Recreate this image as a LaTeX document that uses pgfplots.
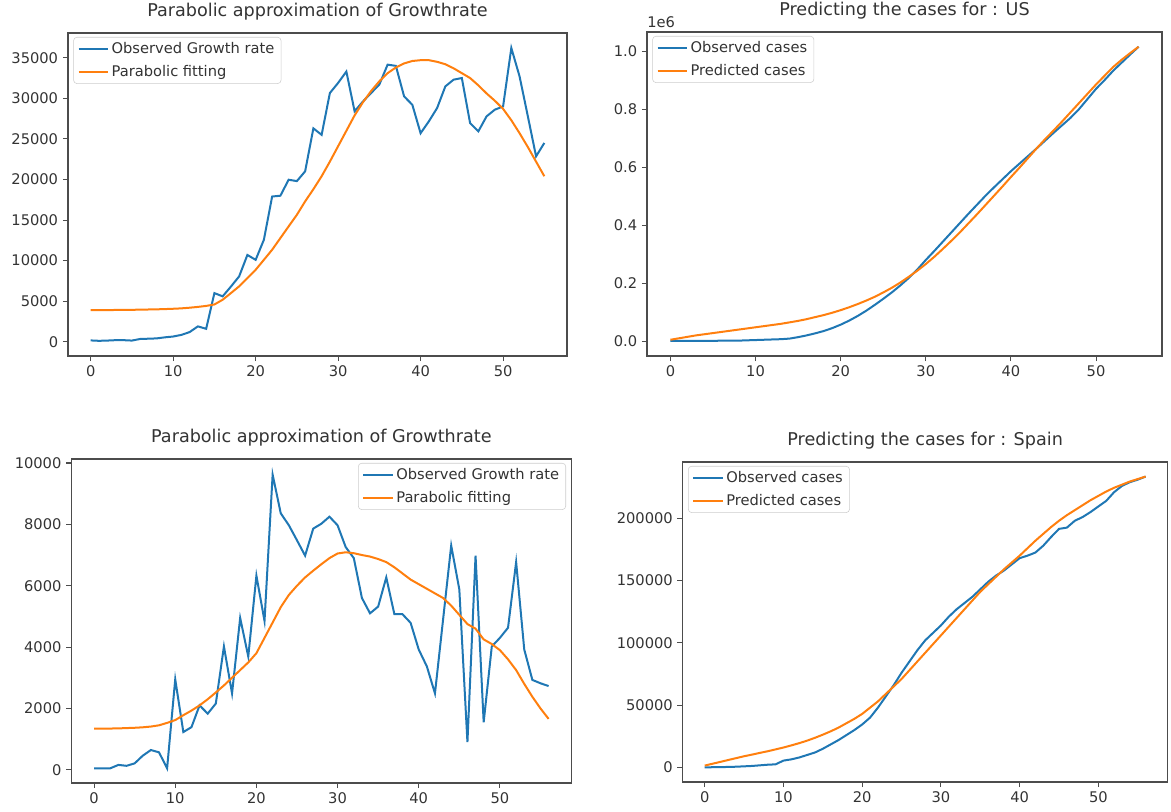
\documentclass[border=0pt]{standalone}
\usepackage{fontspec}
\setmainfont{DejaVu Sans}
\usepackage{pgfplots}
\usepackage{pgfplotstable}
\pgfplotsset{compat=1.18}
\definecolor{mplblue}{HTML}{1F77B4}
\definecolor{mplorange}{HTML}{FF7F0E}

\pgfplotstableread{
x y
0 170
1 120
2 150
3 200
4 200
5 150
6 350
7 380
8 420
9 550
10 650
11 850
12 1200
13 1900
14 1600
15 6000
16 5600
17 6800
18 8060
19 10700
20 10100
21 12570
22 17900
23 18000
24 19970
25 19800
26 21000
27 26300
28 25500
29 30650
30 31900
31 33300
32 28400
33 29600
34 30650
35 31700
36 34150
37 34000
38 30240
39 29200
40 25700
41 27160
42 28800
43 31470
44 32300
45 32500
46 26950
47 25930
48 27780
49 28600
50 29000
51 36200
52 32700
53 27800
54 22850
55 24500
}\usobs

\pgfplotstableread{
x y
0 3900
1 3900
2 3910
3 3920
4 3930
5 3940
6 3960
7 3980
8 4000
9 4030
10 4070
11 4120
12 4200
13 4300
14 4420
15 4600
16 5180
17 6000
18 6830
19 7850
20 8870
21 10100
22 11340
23 12780
24 14220
25 15650
26 17300
27 18800
28 20400
29 22200
30 24100
31 26000
32 27900
33 29500
34 30900
35 32100
36 33100
37 33800
38 34300
39 34600
40 34700
41 34700
42 34500
43 34200
44 33700
45 33100
46 32500
47 31600
48 30600
49 29700
50 28700
51 27300
52 25700
53 24000
54 22200
55 20400
}\usfit

\pgfplotstableread{
x y
0 0.001
1 0.001
2 0.001
3 0.001
4 0.001
5 0.001
6 0.002
7 0.002
8 0.002
9 0.003
10 0.004
11 0.005
12 0.006
13 0.007
14 0.009
15 0.014
16 0.020
17 0.027
18 0.035
19 0.045
20 0.057
21 0.071
22 0.087
23 0.105
24 0.125
25 0.146
26 0.168
27 0.192
28 0.218
29 0.247
30 0.280
31 0.311
32 0.343
33 0.375
34 0.407
35 0.439
36 0.470
37 0.501
38 0.530
39 0.558
40 0.586
41 0.612
42 0.638
43 0.664
44 0.691
45 0.718
46 0.744
47 0.770
48 0.800
49 0.835
50 0.870
51 0.900
52 0.932
53 0.960
54 0.988
55 1.015
}\uscases

\pgfplotstableread{
x y
0 0.005
1 0.010
2 0.015
3 0.020
4 0.024
5 0.028
6 0.032
7 0.036
8 0.040
9 0.044
10 0.048
11 0.052
12 0.056
13 0.060
14 0.065
15 0.070
16 0.076
17 0.083
18 0.090
19 0.098
20 0.107
21 0.117
22 0.128
23 0.140
24 0.153
25 0.168
26 0.184
27 0.202
28 0.222
29 0.243
30 0.266
31 0.291
32 0.318
33 0.346
34 0.375
35 0.406
36 0.437
37 0.469
38 0.501
39 0.533
40 0.566
41 0.598
42 0.631
43 0.664
44 0.696
45 0.726
46 0.757
47 0.789
48 0.821
49 0.853
50 0.885
51 0.915
52 0.945
53 0.970
54 0.993
55 1.015
}\uspred

\pgfplotstableread{
x y
0 50
1 50
2 50
3 160
4 130
5 210
6 460
7 645
8 570
9 50
10 2950
11 1230
12 1390
13 2100
14 1830
15 2160
16 4020
17 2490
18 4950
19 3690
20 6330
21 4850
22 9620
23 8360
24 7970
25 7480
26 6980
27 7860
28 8020
29 8250
30 7970
31 7260
32 6900
33 5600
34 5100
35 5320
36 6270
37 5070
38 5070
39 4790
40 3920
41 3370
42 2490
43 4900
44 7310
45 5880
46 900
47 6980
48 1550
49 4020
50 4300
51 4630
52 6770
53 3920
54 2930
55 2820
56 2730
}\esobs

\pgfplotstableread{
x y
0 1340
1 1340
2 1345
3 1350
4 1360
5 1370
6 1385
7 1410
8 1450
9 1530
10 1620
11 1780
12 1930
13 2100
14 2300
15 2520
16 2750
17 3000
18 3250
19 3500
20 3800
21 4300
22 4800
23 5300
24 5700
25 6000
26 6270
27 6490
28 6700
29 6900
30 7050
31 7090
32 7060
33 7000
34 6950
35 6870
36 6770
37 6600
38 6400
39 6200
40 6050
41 5900
42 5750
43 5600
44 5350
45 5050
46 4750
47 4600
48 4250
49 4100
50 3900
51 3600
52 3250
53 2800
54 2380
55 2000
56 1660
}\esfit

\pgfplotstableread{
x y
0 0
1 200
2 300
3 400
4 600
5 900
6 1200
7 1700
8 2200
9 2500
10 5500
11 6500
12 8000
13 10000
14 12000
15 15000
16 18500
17 22000
18 26000
19 30000
20 34500
21 40000
22 48000
23 57000
24 66000
25 76000
26 85000
27 94000
28 102000
29 108000
30 114000
31 121000
32 127000
33 132000
34 137000
35 143000
36 149000
37 154000
38 158000
39 163000
40 168000
41 170000
42 172500
43 178000
44 185000
45 191500
46 192500
47 198000
48 201000
49 205000
50 209500
51 214000
52 221000
53 226000
54 229000
55 231000
56 233500
}\escases

\pgfplotstableread{
x y
0 1500
1 3000
2 4500
3 6000
4 7500
5 9000
6 10300
7 11700
8 13000
9 14500
10 16000
11 17700
12 19500
13 21500
14 23800
15 26300
16 29000
17 32000
18 35500
19 39000
20 43000
21 48000
22 53000
23 59000
24 65000
25 71000
26 78000
27 85000
28 92000
29 99000
30 106000
31 113000
32 120000
33 127000
34 134000
35 141000
36 147000
37 153000
38 159000
39 164500
40 170000
41 176000
42 182000
43 187500
44 193000
45 198000
46 202500
47 206500
48 210500
49 214500
50 218000
51 221500
52 224500
53 227000
54 229500
55 231500
56 233500
}\espred

\pgfplotsset{mpl/.style={
  scale only axis,
  axis line style={black!70, line width=0.8pt},
  tick style={black!70, line width=0.8pt},
  tick align=outside,
  major tick length=3.9pt,
  tick pos=left,
  scaled ticks=false,
  /pgf/number format/assume math mode=true,
  /pgf/number format/fixed,
  /pgf/number format/1000 sep={},
  ticklabel style={font=\fontsize{11}{13}\selectfont, text=black!80},
  xtick={0,10,20,30,40,50},
  title style={at={(0.5,1)}, anchor=base, yshift=6.6pt, font=\fontsize{13.2}{16}\selectfont, inner sep=0pt, text=black!80},
  legend cell align=left,
  legend style={font=\fontsize{11}{13}\selectfont, draw=black!20, rounded corners=2.5pt, fill=white, fill opacity=0.8, text opacity=1, inner xsep=3pt, inner ysep=2pt, row sep=3pt, text=black!80},
  legend image code/.code={\draw[#1, line width=1.5pt] (0pt,0pt) -- (22pt,0pt);},
  every axis plot/.append style={line width=1.5pt, no markers},
}}

\begin{document}
\begin{tikzpicture}
\useasboundingbox (0,0) rectangle (878.25pt,608.25pt);

% top left
\begin{axis}[mpl,
  at={(51pt,341.25pt)}, anchor=south west,
  width=374.25pt, height=242.25pt,
  xmin=-2.75, xmax=57.75, ymin=-1750, ymax=38050,
  ytick={0,5000,10000,15000,20000,25000,30000,35000},
  title={Parabolic approximation of Growthrate},
  legend style={at={(0,1)}, anchor=north west, xshift=4pt, yshift=-3pt},
]
\addplot[mplblue] table[x=x,y=y] {\usobs};
\addlegendentry{Observed Growth rate}
\addplot[mplorange] table[x=x,y=y] {\usfit};
\addlegendentry{Parabolic fitting}
\end{axis}

% top right
\begin{axis}[mpl,
  at={(485.25pt,341.25pt)}, anchor=south west,
  width=386.25pt, height=243pt,
  xmin=-2.75, xmax=57.75, ymin=-0.051, ymax=1.066,
  ytick={0,0.2,0.4,0.6,0.8,1.0},
  yticklabel style={/pgf/number format/.cd, fixed, fixed zerofill, precision=1},
  title={Predicting the cases for : US},
  legend style={at={(0,1)}, anchor=north west, xshift=4pt, yshift=-3pt},
  clip=false,
]
\addplot[mplblue] table[x=x,y=y] {\uscases};
\addlegendentry{Observed cases}
\addplot[mplorange] table[x=x,y=y] {\uspred};
\addlegendentry{Predicted cases}
\node[anchor=base west, inner sep=0pt, font=\fontsize{11}{13}\selectfont, text=black!80] at ([yshift=3pt]rel axis cs:0,1) {1e6};
\end{axis}

% bottom left
\begin{axis}[mpl,
  at={(53.5pt,21pt)}, anchor=south west,
  width=375pt, height=243pt,
  xmin=-2.8, xmax=58.8, ymin=-430, ymax=10130,
  ytick={0,2000,4000,6000,8000,10000},
  title={Parabolic approximation of Growthrate},
  legend style={at={(1,1)}, anchor=north east, xshift=-4pt, yshift=-3pt},
]
\addplot[mplblue] table[x=x,y=y] {\esobs};
\addlegendentry{Observed Growth rate}
\addplot[mplorange] table[x=x,y=y] {\esfit};
\addlegendentry{Parabolic fitting}
\end{axis}

% bottom right
\begin{axis}[mpl,
  at={(512pt,21.75pt)}, anchor=south west,
  width=363.75pt, height=240pt,
  xmin=-2.8, xmax=58.8, ymin=-11675, ymax=245175,
  ytick={0,50000,100000,150000,200000},
  title={Predicting the cases for : Spain},
  legend style={at={(0,1)}, anchor=north west, xshift=4pt, yshift=-3pt},
]
\addplot[mplblue] table[x=x,y=y] {\escases};
\addlegendentry{Observed cases}
\addplot[mplorange] table[x=x,y=y] {\espred};
\addlegendentry{Predicted cases}
\end{axis}
\end{tikzpicture}
\end{document}
